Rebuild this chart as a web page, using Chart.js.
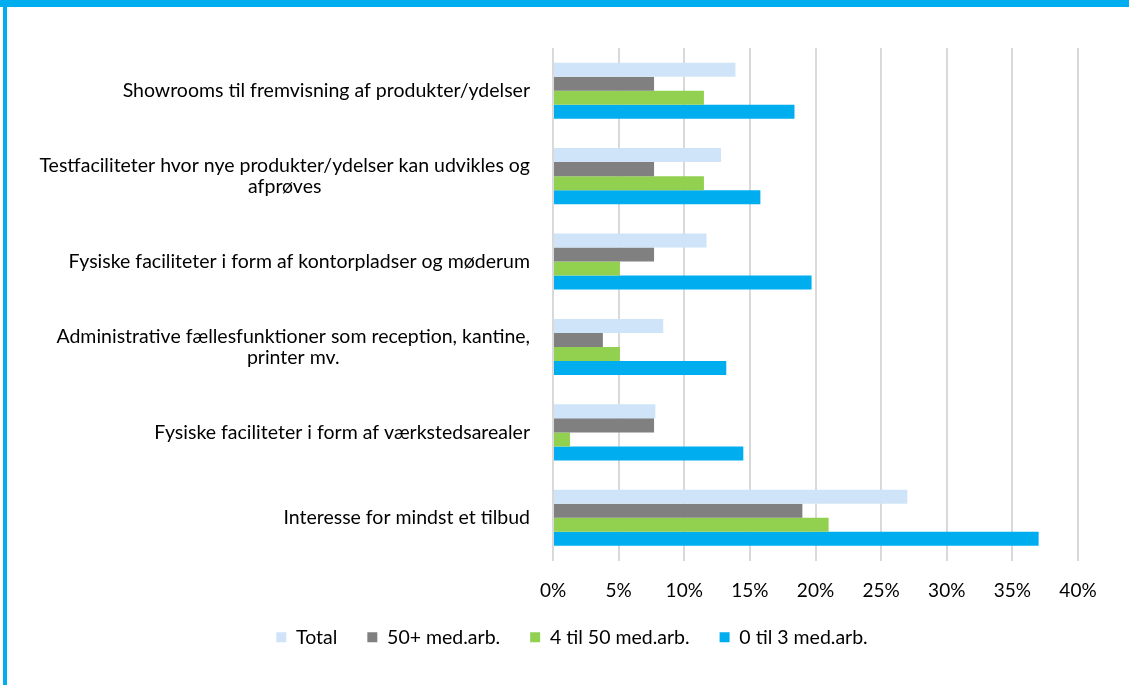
<!DOCTYPE html>
<html>
<head>
<meta charset="utf-8">
<script src="https://cdn.jsdelivr.net/npm/chart.js@4.4.0/dist/chart.umd.min.js"></script>
<style>
  html, body { margin: 0; padding: 0; background: #fff; }
  #wrap { position: relative; width: 1129px; height: 685px; overflow: hidden; }
  #chart { position: absolute; left: 0; top: 0; }
  .frame-top { position: absolute; left: 0; top: 0; width: 1129px; height: 7px; background: #00adef; }
  .frame-left { position: absolute; left: 3px; top: 0; width: 4px; height: 685px; background: #00adef; }
</style>
</head>
<body>
<div id="wrap">
  <canvas id="chart" width="1129" height="685"></canvas>
  <div class="frame-top"></div>
  <div class="frame-left"></div>
</div>
<script>
// kategorier (linjeskift som i originalen)
const categories = [
  ['Showrooms til fremvisning af produkter/ydelser'],
  ['Testfaciliteter hvor nye produkter/ydelser kan udvikles og', 'afprøves'],
  ['Fysiske faciliteter i form af kontorpladser og møderum'],
  ['Administrative fællesfunktioner som reception, kantine,', 'printer mv.'],
  ['Fysiske faciliteter i form af værkstedsarealer'],
  ['Interesse for mindst et tilbud']
];
const seriesNames = ['Total', '50+ med.arb.', '4 til 50 med.arb.', '0 til 3 med.arb.'];

// værdier i procent
const total  = [13.9, 12.8, 11.7, 8.4, 7.8, 27.0];
const large  = [7.7, 7.7, 7.7, 3.8, 7.7, 19.0];
const medium = [11.5, 11.5, 5.1, 5.1, 1.3, 21.0];
const small  = [18.4, 15.8, 19.7, 13.2, 14.5, 37.0];

const xTicks = [0, 5, 10, 15, 20, 25, 30, 35, 40];

const FONT = 'Lato, "Open Sans", sans-serif';
const FONT_SIZE = 19.5;
const TICK_SIZE = 19;
const LINE_H = 21;

// y-labels tegnes selv, så linjerne centreres indbyrdes som i Excel
const categoryLabels = {
  id: 'categoryLabels',
  afterDraw(chart) {
    const ctx = chart.ctx;
    const yScale = chart.scales.y;
    const right = chart.chartArea.left - 23;
    ctx.save();
    ctx.font = FONT_SIZE + 'px ' + FONT;
    ctx.fillStyle = '#000';
    ctx.textBaseline = 'middle';
    ctx.textAlign = 'center';
    categories.forEach((lines, i) => {
      const cy = yScale.getPixelForValue(i);
      const widest = Math.max(...lines.map(l => ctx.measureText(l).width));
      const cx = right - widest / 2;
      lines.forEach((line, j) => {
        ctx.fillText(line, cx, cy + (j - (lines.length - 1) / 2) * LINE_H);
      });
    });
    ctx.restore();
  }
};

const colors = ['#cfe4f9', '#808080', '#92d050', '#00adef'];
const values = [total, large, medium, small];

const ctx = document.getElementById('chart').getContext('2d');
new Chart(ctx, {
  type: 'bar',
  data: {
    labels: categories.map(c => c.join(' ')),
    datasets: seriesNames.map((name, i) => ({
      label: name,
      data: values[i],
      backgroundColor: colors[i],
      borderWidth: 0,
      barPercentage: 1,
      categoryPercentage: 0.656
    }))
  },
  options: {
    indexAxis: 'y',
    responsive: false,
    animation: false,
    layout: { padding: { left: 66, top: 48, right: 51, bottom: 28 } },
    scales: {
      x: {
        min: 0,
        max: 40,
        afterBuildTicks: scale => { scale.ticks = xTicks.map(v => ({ value: v })); },
        afterFit: scale => { scale.height = 37; },
        ticks: {
          padding: 19,
          color: '#000',
          font: { family: FONT, size: TICK_SIZE },
          callback: v => v + '%'
        },
        grid: { color: '#d9d9d9', lineWidth: 2, drawTicks: false },
        border: { display: false }
      },
      y: {
        afterFit: scale => { scale.width = 487; },
        ticks: { display: false },
        grid: { display: false },
        border: { display: false }
      }
    },
    plugins: {
      tooltip: { enabled: false },
      legend: {
        position: 'bottom',
        labels: {
          boxWidth: 10,
          boxHeight: 10,
          padding: 30,
          color: '#000',
          font: { family: FONT, size: FONT_SIZE }
        }
      }
    }
  },
  plugins: [categoryLabels]
});
</script>
</body>
</html>
